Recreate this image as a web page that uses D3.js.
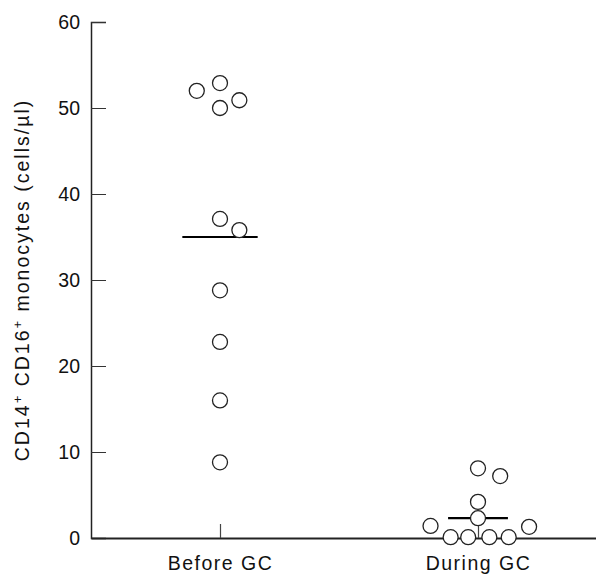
<!DOCTYPE html>
<html>
<head>
<meta charset="utf-8">
<script src="https://cdn.jsdelivr.net/npm/d3@7"></script>
<style>
    body { margin: 0; background: #fff; }
    svg { display: block; font-family: "Liberation Sans", Arial, sans-serif; }
</style>
</head>
<body>
<svg id="chart"></svg>
<script>
// categories and read-off values
const categories = ["Before GC", "During GC"];
const beforeValues = [52.0, 52.9, 50.9, 50.0, 37.1, 35.8, 28.8, 22.8, 16.0, 8.8];
const beforeJitter = [-0.09, 0, 0.075, 0, 0, 0.075, 0, 0, 0, 0];
const duringValues = [8.1, 7.2, 4.2, 2.3, 1.4, 1.3, 0.1, 0.1, 0.1, 0.1];
const duringJitter = [0, 0.086, 0, 0, -0.184, 0.198, -0.106, -0.038, 0.044, 0.119];
const medians = [35.0, 2.3];
const yTicks = [0, 10, 20, 30, 40, 50, 60];

const W = 596, H = 576;
const margin = { top: 22, right: 0, bottom: 38, left: 91 };
const width = W - margin.left - margin.right;
const height = H - margin.top - margin.bottom;

const svg = d3.select("#chart")
    .attr("width", W)
    .attr("height", H)
    .append("g")
    .attr("transform", `translate(${margin.left},${margin.top})`);

// position 1 = Before GC, 2 = During GC
const xscale = d3.scaleLinear()
    .domain([0.5, 2.5])
    .range([0, 516]);

const yscale = d3.scaleLinear()
    .domain([0, 60])
    .range([height, 0]);

const yAxis = svg.append("g")
    .call(d3.axisLeft(yscale).tickValues(yTicks).tickSize(-15).tickPadding(11));
yAxis.select(".domain").attr("stroke", "#222").attr("stroke-width", 1.5);
yAxis.selectAll(".tick line").attr("stroke", "#333").attr("stroke-width", 1);
yAxis.selectAll("text")
    .attr("font-size", 19.5)
    .attr("fill", "#111");

const xAxis = svg.append("g")
    .attr("transform", `translate(0,${height})`)
    .call(d3.axisBottom(xscale)
        .tickValues([1, 2])
        .tickFormat(d => categories[d - 1])
        .tickSize(-14)
        .tickSizeOuter(0)
        .tickPadding(18));
xAxis.select(".domain").attr("stroke", "#222").attr("stroke-width", 2);
xAxis.selectAll(".tick line").attr("stroke", "#444").attr("stroke-width", 1.2);
xAxis.selectAll("text")
    .attr("font-size", 19.5)
    .attr("letter-spacing", 1.5)
    .attr("fill", "#111");

// median bars
const halfWidths = [0.146, 0.116];
svg.selectAll(".median")
    .data(medians)
    .enter().append("line")
    .attr("class", "median")
    .attr("x1", (d, i) => xscale(i + 1 - halfWidths[i]))
    .attr("x2", (d, i) => xscale(i + 1 + halfWidths[i]))
    .attr("y1", d => yscale(d))
    .attr("y2", d => yscale(d))
    .attr("stroke", "#000")
    .attr("stroke-width", 2.2);

const points = [];
beforeValues.forEach((v, i) => points.push({ pos: 1 + beforeJitter[i], value: v }));
duringValues.forEach((v, i) => points.push({ pos: 2 + duringJitter[i], value: v }));

svg.selectAll("circle")
    .data(points)
    .enter().append("circle")
    .attr("cx", d => xscale(d.pos))
    .attr("cy", d => yscale(d.value))
    .attr("r", 7.5)
    .attr("fill", "#fff")
    .attr("stroke", "#222")
    .attr("stroke-width", 1.3);

// y-axis title with superscripts
const title = d3.select("#chart").append("text")
    .attr("transform", "translate(29,280) rotate(-90)")
    .attr("text-anchor", "middle")
    .attr("font-size", 19.5)
    .attr("letter-spacing", 2)
    .attr("fill", "#111");
title.append("tspan").text("CD14");
title.append("tspan").attr("font-size", 13).attr("dy", -7).text("+");
title.append("tspan").attr("dy", 7).text(" CD16");
title.append("tspan").attr("font-size", 13).attr("dy", -7).text("+");
title.append("tspan").attr("dy", 7).text(" monocytes (cells/µl)");
</script>
</body>
</html>
